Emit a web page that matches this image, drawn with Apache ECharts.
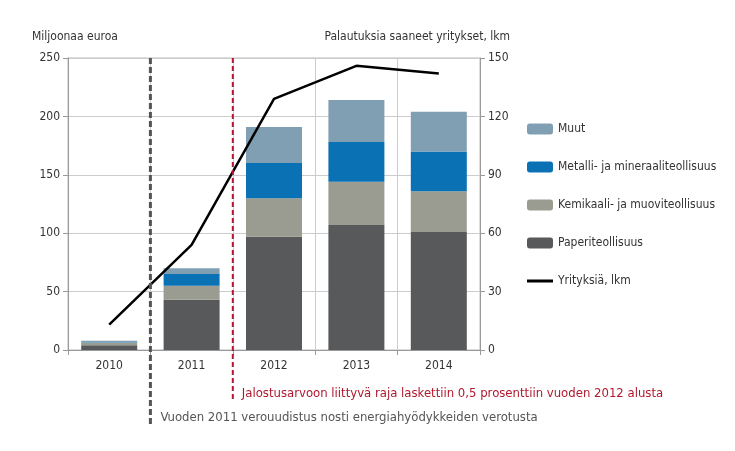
<!DOCTYPE html>
<html><head><meta charset="utf-8">
<script src="https://cdn.jsdelivr.net/npm/echarts@6/dist/echarts.min.js"></script>
<style>html,body{margin:0;background:#fff}#c{width:735px;height:451px}</style>
</head><body><div id="c"></div>
<script>
const years = ['2010', '2011', '2012', '2013', '2014']
const paperi = [4, 43, 97, 107, 101]
const kemikaali = [2, 12, 33, 37, 35]
const metalli = [0.5, 10, 30, 34, 34]
const muut = [1.5, 5, 31, 36, 34]
const yrityksia = [13, 54, 129, 146, 142]
const leftTicks = [0, 250, 50]
const rightTicks = [0, 150, 30]
const grayNote = 'Vuoden 2011 verouudistus nosti energiahyödykkeiden verotusta'
const redNote = 'Jalostusarvoon liittyvä raja laskettiin 0,5 prosenttiin vuoden 2012 alusta'

const font = '"Liberation Sans Narrow", "DejaVu Sans Condensed", sans-serif'
const txt = { color: '#333', fontFamily: font, fontSize: 12 }
const chart = echarts.init(document.getElementById('c'))

const bar = (name, data, color) => ({
  name, type: 'bar', stack: 's', data, barWidth: 56,
  itemStyle: { color }
})

chart.setOption({
  animation: false,
  textStyle: txt,
  grid: { left: 68, right: 255, top: 58, bottom: 101, show: true, borderColor: '#bbb' },
  legend: {
    orient: 'vertical', left: 522, top: 118, itemGap: 26, itemWidth: 26, itemHeight: 11,
    textStyle: txt,
    data: ['Muut', 'Metalli- ja mineraaliteollisuus', 'Kemikaali- ja muoviteollisuus', 'Paperiteollisuus',
      { name: 'Yrityksiä, lkm', icon: 'path://M0,4 L26,4 L26,7 L0,7 Z' }]
  },
  xAxis: {
    type: 'category', data: years,
    axisLine: { lineStyle: { color: '#999' } }, axisTick: { show: true, length: 5, lineStyle: { color: '#999' } },
    splitLine: { show: true, lineStyle: { color: '#ccc' } },
    axisLabel: { ...txt, margin: 10 }
  },
  yAxis: [
    {
      type: 'value', min: leftTicks[0], max: leftTicks[1], interval: leftTicks[2],
      name: 'Miljoonaa euroa', nameTextStyle: { ...txt, align: 'left', padding: [0, 0, 0, -36] },
      axisLine: { show: true, lineStyle: { color: '#999' } }, axisTick: { show: true, lineStyle: { color: '#999' } },
      splitLine: { lineStyle: { color: '#ccc' } }, axisLabel: txt
    },
    {
      type: 'value', min: rightTicks[0], max: rightTicks[1], interval: rightTicks[2],
      name: 'Palautuksia saaneet yritykset, lkm', nameTextStyle: { ...txt, align: 'right', padding: [0, -30, 0, 0] },
      axisLine: { show: true, lineStyle: { color: '#999' } }, axisTick: { show: true, lineStyle: { color: '#999' } },
      splitLine: { show: false }, axisLabel: txt
    }
  ],
  series: [
    bar('Paperiteollisuus', paperi, '#58595b'),
    bar('Kemikaali- ja muoviteollisuus', kemikaali, '#9a9c91'),
    bar('Metalli- ja mineraaliteollisuus', metalli, '#0a71b4'),
    bar('Muut', muut, '#819fb3'),
    {
      name: 'Yrityksiä, lkm', type: 'line', yAxisIndex: 1, data: yrityksia,
      symbol: 'none', lineStyle: { color: '#000', width: 2.5 }, itemStyle: { color: '#000' }
    }
  ]
})

// note lines at category boundaries
const p0 = chart.convertToPixel({ xAxisIndex: 0 }, 0)
const p1 = chart.convertToPixel({ xAxisIndex: 0 }, 1)
const p2 = chart.convertToPixel({ xAxisIndex: 0 }, 2)
const plotTop = chart.convertToPixel({ yAxisIndex: 0 }, leftTicks[1])
const gx = (p0 + p1) / 2, rx = (p1 + p2) / 2
chart.setOption({
  graphic: [
    { type: 'line', shape: { x1: gx, y1: plotTop, x2: gx, y2: 426 }, style: { stroke: '#555', lineWidth: 3, lineDash: [6, 3] }, z: 10 },
    { type: 'line', shape: { x1: rx, y1: plotTop, x2: rx, y2: 402 }, style: { stroke: '#b0182e', lineWidth: 2, lineDash: [5, 3] }, z: 10 },
    { type: 'text', left: gx + 10, top: 411, style: { text: grayNote, fill: '#555', font: '13px ' + font } },
    { type: 'text', left: rx + 9, top: 387, style: { text: redNote, fill: '#b0182e', font: '13px ' + font } }
  ]
})
</script></body></html>
